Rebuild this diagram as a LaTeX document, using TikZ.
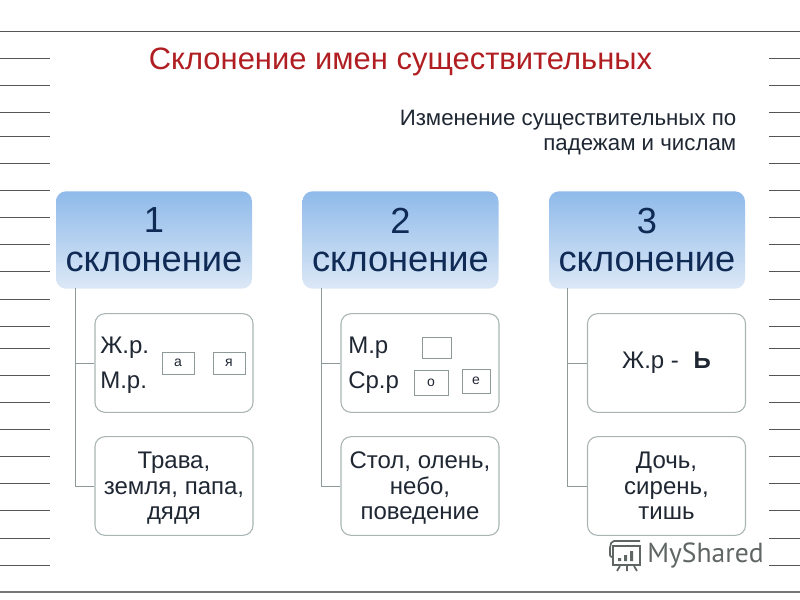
\documentclass[tikz,border=0pt]{standalone}
\usepackage{fontspec}
\setmainfont{Liberation Sans}
\newfontfamily\wmfont{PT Sans}
\definecolor{ruleg}{HTML}{555555}
\definecolor{titlered}{HTML}{B01E22}
\definecolor{ink}{HTML}{1F2733}
\definecolor{navy}{HTML}{0F2A55}
\definecolor{edgeg}{HTML}{A9B4B4}
\definecolor{conng}{HTML}{8E9A9A}
\definecolor{wm}{HTML}{5F6663}
\definecolor{headtop}{HTML}{8FBAEA}
\definecolor{headbot}{HTML}{DCE8F6}
\newcommand{\upline}{\rule{0pt}{16pt}}
\tikzset{
  px/.style={x=0.75pt,y=-0.75pt},
  rule/.style={draw=ruleg,line width=0.75pt},
  head/.style={rectangle,rounded corners=7.5pt,minimum width=147pt,minimum height=73pt,inner sep=0pt,top color=headtop,bottom color=headbot,text=navy,font=\fontsize{27.2}{29}\selectfont,align=center},
  card/.style={rectangle,rounded corners=7.5pt,draw=edgeg,line width=0.8pt,fill=white,minimum width=118.5pt,minimum height=74pt,inner sep=0pt,text=ink,align=center,font=\fontsize{18}{19.2}\selectfont},
  conn/.style={draw=conng,line width=0.75pt},
  tag/.style={rectangle,draw=conng,line width=0.7pt,fill=white,inner sep=0pt,text=ink,font=\fontsize{10.5}{12}\selectfont},
  lab/.style={inner sep=0pt,text=ink,font=\fontsize{18}{20}\selectfont,anchor=west},
}
\begin{document}
\begin{tikzpicture}[px]
\useasboundingbox (0,0) rectangle (800,600);
\fill[white] (0,0) rectangle (800,600);
\coordinate (tl) at (0,31); \coordinate (tr) at (800,31);
\coordinate (bl) at (0,592); \coordinate (br) at (800,592);
\draw[rule] (tl) -- (tr);
\draw[draw=ruleg!80,line width=1.2pt] (bl) -- (br);
\foreach \y in {58,85,112,136,163,190,217,244,271,299,326,348,375,402,429,456,483,510,538,565}{
  \draw[rule] (0,\y) -- (50,\y);
  \draw[rule] (769,\y) -- (800,\y);
}
\node[inner sep=0pt,text=titlered,font=\fontsize{23.2}{27}\selectfont] (title) at (400.5,61.5) {Склонение имен существительных};
\node[inner sep=0pt,text=ink,align=right,font=\fontsize{16.7}{19}\selectfont,anchor=east] (sub) at (736.5,132.5) {Изменение существительных по\\падежам и числам};

\node[head] (h1) at (154,240) {1\\склонение};
\node[head] (h2) at (400.5,240) {2\\склонение};
\node[head] (h3) at (647,240) {3\\склонение};

\node[card] (a1) at (174,363) {};
\node[card] (a2) at (174,486) {\upline Трава,\\земля, папа,\\дядя};
\node[card] (b1) at (420,363) {};
\node[card] (b2) at (420,486) {\upline Стол, олень,\\небо,\\поведение};
\node[card] (c1) at (666.5,363) {Ж.р -\hspace{11pt}\textbf{Ь}};
\node[card] (c2) at (666.5,486) {Дочь,\\сирень,\\тишь};

\coordinate (s1) at (75,288); \coordinate (s2) at (321,288); \coordinate (s3) at (567,288);
\draw[conn] (s1) |- (a1.west);
\draw[conn] (s1) |- (a2.west);
\draw[conn] (s2) |- (b1.west);
\draw[conn] (s2) |- (b2.west);
\draw[conn] (s3) |- (c1.west);
\draw[conn] (s3) |- (c2.west);

\node[lab] (l1) at (100,348) {Ж.р.};
\node[lab] (l2) at (100,383) {М.р.};
\node[lab] (l3) at (348,348) {М.р};
\node[lab] (l4) at (348,383) {Ср.р};
\node[tag,minimum width=24pt,minimum height=16.5pt] (ta) at (178,363) {а};
\node[tag,minimum width=24pt,minimum height=16.5pt] (tb) at (229,363) {я};
\node[tag,minimum width=21.75pt,minimum height=15.75pt] (tc) at (436.5,347.5) {};
\node[tag,minimum width=25.5pt,minimum height=18.75pt] (td) at (431,382.5) {о};
\node[tag,minimum width=21pt,minimum height=18pt] (te) at (476,381) {е};

% watermark
\node[inner sep=0pt,text=wm,anchor=west,font=\wmfont\fontsize{20.7}{24}\selectfont] (wm) at (647,555.5) {MyShared};
\draw[wm,line width=1.5pt] (613,546) -- (640,546) -- (640,565) -- (613,565) -- cycle;
\draw[wm,line width=1.3pt,rounded corners=1.5pt] (640,541) -- (612,541) -- (610,546) -- (610,557) -- (613,557);
\fill[wm] (618,558) rectangle (621,561) (624,555) rectangle (627,561) (630,551) rectangle (633,561);
\draw[wm,line width=1.3pt] (620,566) -- (617,571) (627,566) -- (627,571) (634,566) -- (637,571);
\end{tikzpicture}
\end{document}
